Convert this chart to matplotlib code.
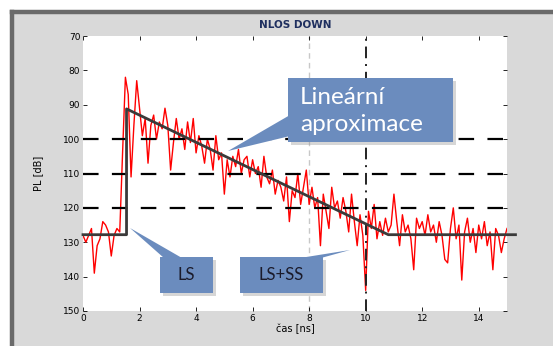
import numpy as np
import matplotlib
matplotlib.use('Agg')
import matplotlib.pyplot as plt
from matplotlib.patches import Rectangle, Polygon

# measured PL trace, one sample every 0.1 ns
dt = 0.1
pl = [128, 130, 128, 126, 139, 131, 129, 124, 125, 127,
      134, 128, 126, 127, 104, 82, 87, 111, 96, 83,
      91, 99, 94, 107, 96, 93, 100, 95, 97, 91,
      96, 109, 101, 94, 100, 97, 103, 95, 101, 94,
      104, 99, 102, 107, 100, 103, 109, 99, 106, 104,
      116, 106, 111, 105, 108, 103, 110, 106, 105, 111,
      106, 110, 108, 114, 105, 111, 113, 109, 116, 112,
      114, 118, 111, 124, 115, 117, 110, 119, 114, 109,
      119, 114, 120, 117, 131, 116, 121, 126, 114, 120,
      118, 123, 117, 121, 127, 116, 124, 131, 122, 128,
      144, 121, 126, 119, 129, 124, 128, 123, 127, 125,
      116, 124, 131, 122, 127, 125, 129, 138, 123, 126,
      124, 128, 122, 127, 125, 130, 124, 128, 135, 136,
      126, 120, 129, 125, 141, 127, 123, 130, 126, 133,
      125, 129, 124, 131, 127, 138, 126, 128, 133, 129, 126]
t = np.arange(len(pl)) * dt

# piecewise linear approximation (LS / LS+SS)
fit_t = [0, 1.54, 1.54, 10.8, 15.3]
fit_pl = [127.8, 127.8, 91.2, 127.8, 127.8]

ref_levels = [100, 110, 120]
xticks = [0, 2, 4, 6, 8, 10, 12, 14]
yticks = [70, 80, 90, 100, 110, 120, 130, 140, 150]

W, H = 553, 346
fig = plt.figure(figsize=(W/100, H/100), dpi=100, facecolor='white')

def fx(px):
    return px / W

def fy(py):
    return 1 - py / H

# window frame
fig.patches.append(Rectangle((fx(12), 0), 1 - fx(12), fy(12), transform=fig.transFigure,
                             facecolor='#d9d9d9', edgecolor='none', zorder=-5))
fig.add_artist(plt.Line2D([fx(12), fx(12)], [0, fy(12)], color='#6a6a6a', lw=3.2, zorder=-4))
fig.add_artist(plt.Line2D([fx(12), 1], [fy(12), fy(12)], color='#6a6a6a', lw=3.2, zorder=-4))

ax = fig.add_axes([fx(83), fy(311), fx(507) - fx(83), fy(36) - fy(311)])
ax.set_facecolor('white')

ax.axvline(8, color='#c8c8c8', lw=1.0, ls=(0, (4, 3)), zorder=1)
ax.plot(t, pl, color='red', lw=1.0, zorder=2)
for lev in ref_levels:
    ax.axhline(lev, color='black', lw=1.6, ls=(0, (7, 6)), zorder=3)
ax.axvline(10, color='#222222', lw=1.4, ls=(0, (6, 3, 1, 3)), zorder=3)
ax.plot(fit_t, fit_pl, color='#3a3a3a', lw=2.0, zorder=4, clip_on=False)

ax.set_xlim(0, 15)
ax.set_ylim(150, 70)
ax.set_xticks(xticks)
ax.set_yticks(yticks)
ax.tick_params(direction='in', length=3, width=0.6, labelsize=6.5, pad=2,
               top=True, right=True)
for s in ax.spines.values():
    s.set_visible(False)
ax.set_xlabel('čas [ns]', fontsize=7, labelpad=1)
ax.set_ylabel('PL [dB]', fontsize=7, labelpad=14)
ax.set_title('NLOS DOWN', fontsize=7.5, fontweight='bold', color='#1f2f5f', pad=6)

box_fc = '#6b8cbe'

def callout(x0, y0, x1, y1, base, tip):
    # shadow, pointer and box drawn in pixel space of the figure
    sh = Rectangle((fx(x0 + 3), fy(y1 + 3)), fx(x1) - fx(x0), fy(y0) - fy(y1),
                   transform=fig.transFigure, facecolor='#9a9a9a', alpha=0.4,
                   edgecolor='none', zorder=9)
    fig.add_artist(sh)
    ptr = Polygon([(fx(base[0][0]), fy(base[0][1])), (fx(tip[0]), fy(tip[1])),
                   (fx(base[1][0]), fy(base[1][1]))], closed=True,
                  transform=fig.transFigure, facecolor=box_fc, edgecolor='none', zorder=10)
    fig.add_artist(ptr)
    bx = Rectangle((fx(x0), fy(y1)), fx(x1) - fx(x0), fy(y0) - fy(y1),
                   transform=fig.transFigure, facecolor=box_fc, edgecolor='none', zorder=10)
    fig.add_artist(bx)

callout(288, 78, 453, 142, [(290, 115), (290, 136)], (228, 151))
callout(160, 257, 213, 293, [(164, 258), (182, 258)], (130, 228))
callout(240, 257, 323, 293, [(300, 258), (321, 258)], (350, 250))

fig.text(fx(300), fy(111), 'Lineární\naproximace', ha='left', va='center',
         color='white', fontsize=17.5, family='Lato', zorder=11, linespacing=1.3)
fig.text(fx(186.5), fy(275), 'LS', ha='center', va='center',
         color='#1b1b2b', fontsize=12, family='Lato', zorder=11)
fig.text(fx(281.5), fy(275), 'LS+SS', ha='center', va='center',
         color='#1b1b2b', fontsize=12, family='Lato', zorder=11)

fig.savefig('out.png', dpi=100)
